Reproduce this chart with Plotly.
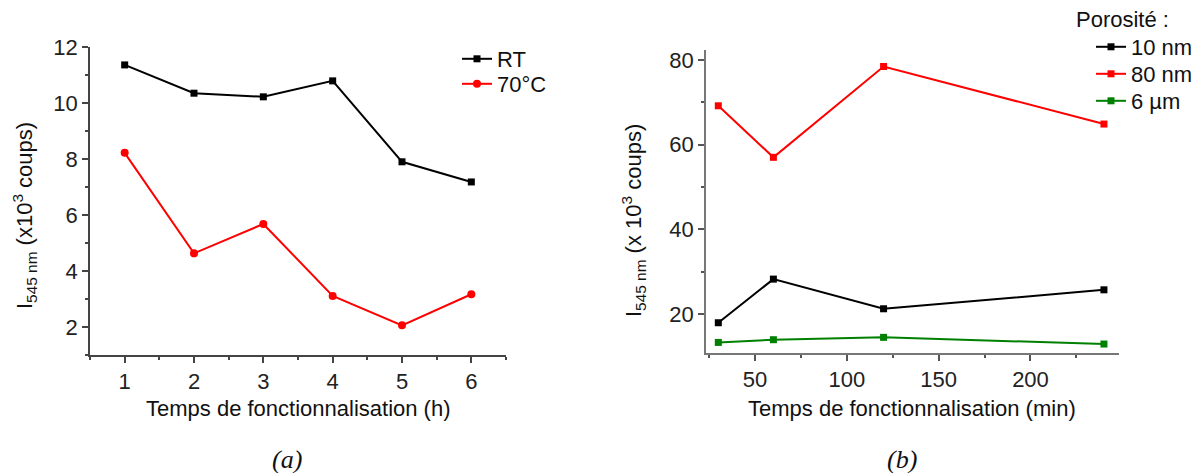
import plotly.graph_objects as go

# ---- data (a) ----
hours = [1, 2, 3, 4, 5, 6]
rt_vals = [11.36, 10.35, 10.22, 10.79, 7.90, 7.18]
c70_vals = [8.22, 4.63, 5.68, 3.11, 2.06, 3.17]

# ---- data (b) ----
minutes = [30, 60, 120, 240]
p10_vals = [17.95, 28.26, 21.25, 25.73]
p80_vals = [69.22, 57.04, 78.5, 64.9]
p6_vals = [13.3, 13.94, 14.5, 12.92]

left_ticks = [2, 4, 6, 8, 10, 12]
right_yticks = [20, 40, 60, 80]
right_xticks = [50, 100, 150, 200]

W, H = 1200, 473
OFF = 8  # page body margin
FONT = "Liberation Sans, Arial, sans-serif"
FS = 22

def px(x):
    return (x - OFF) / W

def py(y):
    return 1 - (y - OFF) / H

fig = go.Figure()

fig.add_trace(go.Scatter(x=hours, y=rt_vals, name="RT", mode="lines+markers",
                         line=dict(color="black", width=2),
                         marker=dict(symbol="square", size=7, color="black"),
                         xaxis="x", yaxis="y", legend="legend2"))
fig.add_trace(go.Scatter(x=hours, y=c70_vals, name="70°C", mode="lines+markers",
                         line=dict(color="#ff0000", width=2),
                         marker=dict(symbol="circle", size=8, color="#ff0000"),
                         xaxis="x", yaxis="y", legend="legend3"))

fig.add_trace(go.Scatter(x=minutes, y=p10_vals, name="10 nm", mode="lines+markers",
                         line=dict(color="black", width=2),
                         marker=dict(symbol="square", size=7, color="black"),
                         xaxis="x2", yaxis="y2", legend="legend4"))
fig.add_trace(go.Scatter(x=minutes, y=p80_vals, name="80 nm", mode="lines+markers",
                         line=dict(color="#ff0000", width=2),
                         marker=dict(symbol="square", size=7, color="#ff0000"),
                         xaxis="x2", yaxis="y2", legend="legend5"))
fig.add_trace(go.Scatter(x=minutes, y=p6_vals, name="6 µm", mode="lines+markers",
                         line=dict(color="#008000", width=2),
                         marker=dict(symbol="square", size=7, color="#008000"),
                         xaxis="x2", yaxis="y2", legend="legend6"))

axis_common = dict(showgrid=False, zeroline=False, showline=True, ticks="outside",
                   tickfont=dict(family=FONT, size=FS, color="#222"),
                   linewidth=1.5, tickwidth=1.5, ticklen=6, automargin=False)

def leg(xpix, ypix):
    return dict(x=px(xpix), y=py(ypix), xanchor="left", yanchor="middle",
                bgcolor="rgba(0,0,0,0)", font=dict(family=FONT, size=FS, color="#111"),
                tracegroupgap=0, itemwidth=30, visible=True)

fig.update_layout(
    width=W, height=H,
    margin=dict(l=0, r=0, t=0, b=0, autoexpand=False),
    paper_bgcolor="white", plot_bgcolor="white",
    showlegend=True,
    font=dict(family=FONT, size=FS, color="#111"),
    xaxis=dict(domain=[px(90), px(506)], range=[0.5, 6.5], tickvals=hours,
               linecolor="#444", tickcolor="#444",
               minor=dict(dtick=0.5, tick0=0.5, ticks="outside", ticklen=3, tickcolor="#444", tickwidth=1.5),
               anchor="y", **axis_common),
    yaxis=dict(domain=[py(355), py(47)], range=[1, 12], tickvals=left_ticks,
               linecolor="#444", tickcolor="#444",
               minor=dict(dtick=1, tick0=1, ticks="outside", ticklen=3, tickcolor="#444", tickwidth=1.5),
               anchor="x", **axis_common),
    xaxis2=dict(domain=[px(706), px(1119)], range=[23.3, 248.2], tickvals=right_xticks,
                linecolor="#777", tickcolor="#555",
                minor=dict(dtick=25, tick0=25, ticks="outside", ticklen=3, tickcolor="#555", tickwidth=1.5),
                anchor="y2", **axis_common),
    yaxis2=dict(domain=[py(353), py(50)], range=[10.8, 82.4], tickvals=right_yticks,
                linecolor="#777", tickcolor="#555",
                minor=dict(dtick=10, tick0=0, ticks="outside", ticklen=3, tickcolor="#555", tickwidth=1.5),
                anchor="x2", **axis_common),
    legend2=leg(457, 59),
    legend3=leg(457, 84),
    legend4=leg(1091, 47),
    legend5=leg(1091, 74),
    legend6=leg(1091, 101),
)

annots = [
    dict(x=px(24), y=py(216), text="I<sub>545 nm</sub> (x10<sup>3</sup> coups)", textangle=-90,
         xanchor="center", yanchor="middle"),
    dict(x=px(634), y=py(220), text="I<sub>545 nm</sub> (x 10<sup>3</sup> coups)", textangle=-90,
         xanchor="center", yanchor="middle"),
    dict(x=px(298), y=py(408), text="Temps de fonctionnalisation (h)",
         xanchor="center", yanchor="middle"),
    dict(x=px(912), y=py(408), text="Temps de fonctionnalisation (min)",
         xanchor="center", yanchor="middle"),
    dict(x=px(1074), y=py(20), text="Porosité :", xanchor="left", yanchor="middle"),
]
for a in annots:
    fig.add_annotation(xref="paper", yref="paper", showarrow=False,
                       font=dict(family=FONT, size=FS, color="#111"), **a)

for cx, t in [(287, "(a)"), (902, "(b)")]:
    fig.add_annotation(xref="paper", yref="paper", x=px(cx), y=py(459), showarrow=False,
                       xanchor="center", yanchor="middle", text="<i>%s</i>" % t,
                       font=dict(family="Liberation Serif, Times New Roman, serif", size=26, color="#111"))

fig.write_html("out.html")
